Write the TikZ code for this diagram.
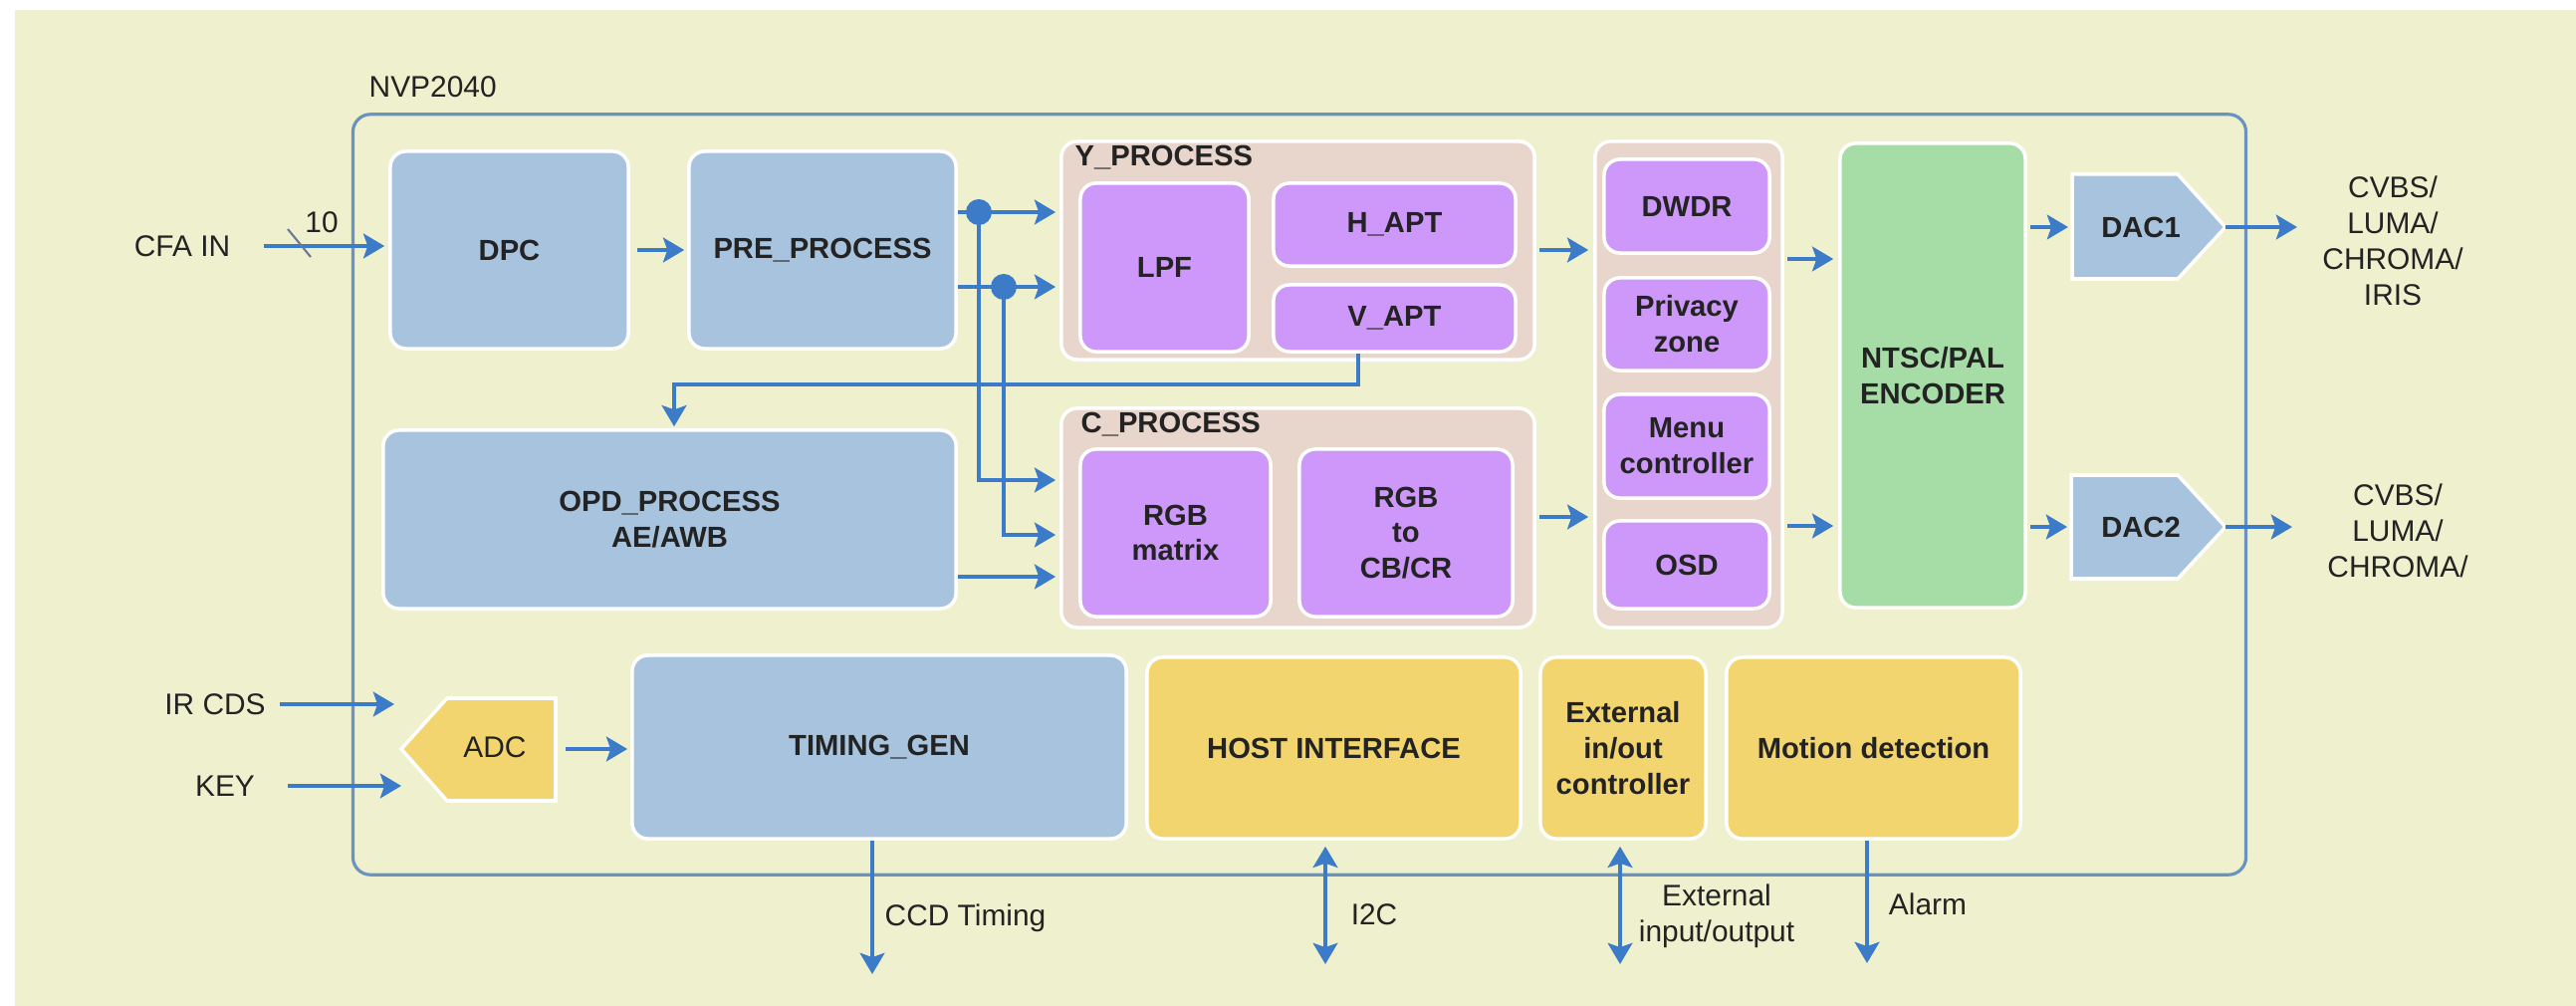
\documentclass[tikz,border=0pt]{standalone}
\usepackage{fontspec}
\setmainfont{Liberation Sans}
\usetikzlibrary{arrows.meta,calc}
\definecolor{cbg}{RGB}{239,240,205}
\definecolor{cblue}{RGB}{168,195,222}
\definecolor{cpur}{RGB}{205,152,250}
\definecolor{cpink}{RGB}{232,214,205}
\definecolor{cgreen}{RGB}{166,221,166}
\definecolor{cyel}{RGB}{243,213,112}
\definecolor{carr}{RGB}{60,123,200}
\definecolor{cline}{RGB}{106,147,191}
\definecolor{txt}{RGB}{35,35,35}
\definecolor{cslash}{RGB}{110,120,150}
\begin{document}
\begin{tikzpicture}[x=0.01cm,y=-0.01cm,
  blk/.style={rounded corners=4.5pt, draw=white, line width=1pt, inner sep=0pt,
    font=\bfseries\fontsize{8.3}{10.2}\selectfont, text=txt, align=center},
  bluebox/.style={blk, fill=cblue},
  purbox/.style={blk, fill=cpur},
  pinkbox/.style={blk, fill=cpink},
  greenbox/.style={blk, fill=cgreen},
  yelbox/.style={blk, fill=cyel},
  sz/.style 2 args={minimum width=#1cm, minimum height=#2cm},
  btxt/.style={font=\bfseries\fontsize{8.3}{10.2}\selectfont, text=txt, inner sep=0pt, align=center},
  ext/.style={font=\fontsize{8.5}{10.2}\selectfont, text=txt, inner sep=0pt, align=center},
  arr/.style={draw=carr, line width=1.3pt, -{Stealth[length=6pt,width=7pt,inset=1.2pt]}},
  darr/.style={draw=carr, line width=1.3pt, {Stealth[length=6pt,width=7pt,inset=1.2pt]}-{Stealth[length=6pt,width=7pt,inset=1.2pt]}},
]
\useasboundingbox (0,0) rectangle (2587,1010);
\fill[white] (0,0) rectangle (2587,1010);
\fill[cbg] (15,10) rectangle (2587,1010);

% chip outline
\node[ext, anchor=west] (title) at (370,87) {NVP2040};
\node[draw=cline, line width=0.9pt, rounded corners=5pt, inner sep=0pt, sz={19.00}{7.63}] (chip) at (1305,496.5) {};

% blocks
\node[bluebox, sz={2.39}{1.98}] (dpc) at (511.5,251) {DPC};
\node[bluebox, sz={2.68}{1.98}] (pre) at (826,251) {PRE\_PROCESS};
\node[pinkbox, sz={4.75}{2.19}] (yproc) at (1303.5,251.5) {};
\node[btxt, anchor=west] (ylbl) at (1079,158) {Y\_PROCESS};
\node[purbox, sz={1.69}{1.69}] (lpf) at (1169.5,268.5) {LPF};
\node[purbox, sz={2.43}{0.83}] (hapt) at (1400.5,225.5) {H\_APT};
\node[purbox, sz={2.43}{0.67}] (vapt) at (1400.5,319.5) {V\_APT};
\node[pinkbox, sz={4.75}{2.20}] (cproc) at (1303.5,520) {};
\node[btxt, anchor=west] (clbl) at (1085,426) {C\_PROCESS};
\node[purbox, sz={1.91}{1.68}] (rgbm) at (1180.5,535) {RGB\\matrix};
\node[purbox, sz={2.14}{1.68}] (rgbc) at (1412,535) {RGB\\to\\CB/CR};
\node[pinkbox, sz={1.88}{4.88}] (col) at (1696,386) {};
\node[purbox, sz={1.66}{0.94}] (dwdr) at (1694,207) {DWDR};
\node[purbox, sz={1.66}{0.93}] (priv) at (1694,325.5) {Privacy\\zone};
\node[purbox, sz={1.66}{1.04}] (menu) at (1694,448) {Menu\\controller};
\node[purbox, sz={1.66}{0.88}] (osd) at (1694,567) {OSD};
\node[greenbox, sz={1.86}{4.66}] (enc) at (1941,377) {NTSC/PAL\\ENCODER};
\node[bluebox, sz={5.75}{1.79}] (opd) at (672.5,521.5) {OPD\_PROCESS\\AE/AWB};
\node[bluebox, sz={4.96}{1.84}] (tg) at (883,750) {TIMING\_GEN};
\node[yelbox, sz={3.75}{1.82}] (host) at (1339.5,751) {HOST INTERFACE};
\node[yelbox, sz={1.66}{1.82}] (extc) at (1630,751) {External\\in/out\\controller};
\node[yelbox, sz={2.95}{1.82}] (mot) at (1881.5,751) {Motion detection};

% DACs
\path[fill=cblue, draw=white, line width=1pt] (2081,175) -- (2187,175) -- (2235,228) -- (2187,280) -- (2081,280) -- cycle;
\node[btxt] (dac1) at (2150,228) {DAC1};
\coordinate (dac1w) at (2081,228);
\coordinate (dac1e) at (2235,228);
\path[fill=cblue, draw=white, line width=1pt] (2080,477) -- (2187,477) -- (2235,529) -- (2187,581) -- (2080,581) -- cycle;
\node[btxt] (dac2) at (2150,529) {DAC2};
\coordinate (dac2w) at (2080,529);
\coordinate (dac2e) at (2235,529);

% ADC
\path[fill=cyel, draw=white, line width=1pt] (403,752) -- (449,701) -- (558,701) -- (558,804) -- (449,804) -- cycle;
\node[ext] (adc) at (497,750) {ADC};
\coordinate (adcw) at (403,752);
\coordinate (adce) at (558,752);

% external labels
\node[ext] (cfa) at (183,247) {CFA IN};
\node[ext] (ten) at (323,223) {10};
\node[ext] (irc) at (216,707) {IR CDS};
\node[ext] (key) at (226,789) {KEY};
\node[ext] (o1) at (2403,242) {CVBS/\\LUMA/\\CHROMA/\\IRIS};
\node[ext] (o2) at (2408,533) {CVBS/\\LUMA/\\CHROMA/};
\node[ext, anchor=west] (ccd) at (888,922) {CCD Timing};
\node[ext] (i2c) at (1380,918) {I2C};
\node[ext] (extl) at (1724,920) {External\\input/output};
\node[ext] (alarm) at (1936,908) {Alarm};

% connectors
\draw[arr, shorten <=0.33cm, shorten >=0.04cm] (cfa.east) -- (dpc.west |- cfa.east);
\draw[cslash, line width=0.6pt] (289,230) -- (312,258);
\draw[arr, shorten <=0.07cm, shorten >=0.03cm] (dpc.east) -- (pre.west);

\coordinate (j1) at (983,213);
\coordinate (j2) at (1008,288);
\draw[arr, shorten >=0.04cm] (pre.east |- j1) -- (yproc.west |- j1);
\draw[arr, shorten >=0.04cm] (pre.east |- j2) -- (yproc.west |- j2);
\draw[arr, shorten >=0.04cm] (j1) |- (cproc.west |- 0,482);
\draw[arr, shorten >=0.04cm] (j2) |- (cproc.west |- 0,537);
\draw[arr, shorten >=0.04cm] (opd.east |- 0,579) -- (cproc.west |- 0,579);
\fill[carr] (j1) circle (0.13cm);
\fill[carr] (j2) circle (0.13cm);

\draw[arr, shorten >=0.02cm] (vapt.south -| 1364,0) -- (1364,386) -| (opd.north -| 677,0);

\draw[arr, shorten <=0.03cm, shorten >=0.05cm] (yproc.east |- 0,251) -- (col.west |- 0,251);
\draw[arr, shorten <=0.03cm, shorten >=0.05cm] (cproc.east |- 0,519) -- (col.west |- 0,519);
\draw[arr, shorten <=0.03cm, shorten >=0.05cm] (col.east |- 0,260) -- (enc.west |- 0,260);
\draw[arr, shorten <=0.03cm, shorten >=0.05cm] (col.east |- 0,528) -- (enc.west |- 0,528);
\draw[arr, shorten <=0.03cm, shorten >=0.04cm] (enc.east |- dac1w) -- (dac1w);
\draw[arr, shorten <=0.03cm, shorten >=0.04cm] (enc.east |- dac2w) -- (dac2w);
\coordinate (out1) at (2307,228);
\coordinate (out2) at (2302,529);
\draw[arr] (dac1e) -- (out1);
\draw[arr] (dac2e) -- (out2);

\draw[arr, shorten <=0.14cm, shorten >=0.07cm] (irc.east) -- (adcw |- irc.east);
\draw[arr, shorten <=0.32cm] (key.east) -- (adcw |- key.east);
\draw[arr, shorten <=0.1cm, shorten >=0.03cm] (adce) -- (tg.west |- adce);

\coordinate (ccdend) at (876,978);
\coordinate (i2cend) at (1331,968);
\coordinate (extend) at (1627,968);
\coordinate (alend) at (1875,967);
\draw[arr] (tg.south -| ccdend) -- (ccdend);
\draw[darr, shorten <=0.06cm] (host.south -| i2cend) -- (i2cend);
\draw[darr, shorten <=0.06cm] (extc.south -| extend) -- (extend);
\draw[arr] (mot.south -| alend) -- (alend);
\end{tikzpicture}
\end{document}
